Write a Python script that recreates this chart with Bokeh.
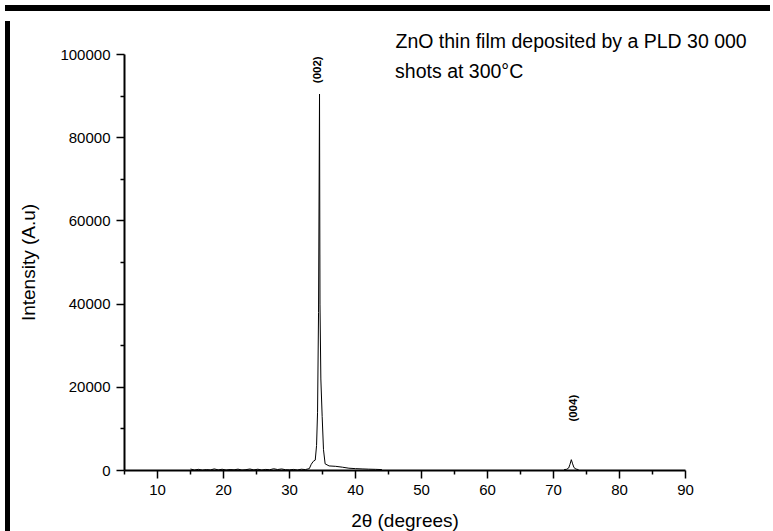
from bokeh.plotting import figure
from bokeh.models import ColumnDataSource, FixedTicker, Label, Title, Div
from bokeh.layouts import column, row
from bokeh.embed import file_html
from bokeh.resources import INLINE

# ---- data ----
two_theta_a = [15.0, 15.6, 16.2, 16.8, 17.4, 18.0, 18.6, 19.2, 19.8, 20.4, 21.0, 21.6,
               22.2, 22.8, 23.4, 24.0, 24.6, 25.2, 25.8, 26.4, 27.0, 27.6, 28.2, 28.8,
               29.4, 30.0, 30.6, 31.2, 31.8, 32.4, 33.0, 33.3, 33.6, 33.9, 34.1, 34.25,
               34.4, 34.55, 34.62, 34.75, 34.95, 35.15, 35.4, 36.0, 37.0, 38.0, 39.0,
               40.0, 41.0, 42.0, 43.0, 44.0]
intensity_a = [350, 120, 280, 90, 220, 130, 380, 150, 300, 110, 240, 160,
               330, 100, 200, 360, 140, 310, 120, 260, 180, 420, 230, 370,
               190, 150, 260, 120, 310, 220, 450, 1500, 2200, 2500, 6000, 14000,
               38000, 90500, 40000, 22000, 13000, 5000, 1600, 1100, 1000, 800, 550,
               450, 380, 320, 280, 220]

two_theta_b = [71.6, 72.0, 72.3, 72.5, 72.7, 72.9, 73.1, 73.4, 73.8]
intensity_b = [200, 300, 600, 1500, 2600, 1600, 700, 350, 200]

x_major = [10, 20, 30, 40, 50, 60, 70, 80, 90]
x_minor = [5, 15, 25, 35, 45, 55, 65, 75, 85]
y_major = [0, 20000, 40000, 60000, 80000, 100000]
y_minor = [10000, 30000, 50000, 70000, 90000]
y_labels = ["0", "20000", "40000", "60000", "80000", "100000"]

peak_names = ["(002)", "(004)"]
peak_x = [34.22, 73.0]
peak_y = [93100, 11750]

title_line1 = "ZnO thin film deposited by a PLD 30 000"
title_line2 = "shots at 300\u00b0C"
title_x = 46.0
title_y2 = 96150

FONT = "Liberation Sans"

fig = figure(width=760, height=517, x_range=(5, 90), y_range=(0, 100000),
             output_backend="svg", toolbar_location=None,
             min_border_left=109, min_border_right=90,
             min_border_top=38, min_border_bottom=62)
fig.outline_line_color = None
fig.xgrid.visible = False
fig.ygrid.visible = False
fig.background_fill_color = "white"
fig.border_fill_color = "white"

src_a = ColumnDataSource(dict(x=two_theta_a, y=intensity_a))
src_b = ColumnDataSource(dict(x=two_theta_b, y=intensity_b))
fig.line("x", "y", source=src_a, line_color="black", line_width=1)
fig.line("x", "y", source=src_b, line_color="black", line_width=1)

for ax in (fig.xaxis[0], fig.yaxis[0]):
    ax.axis_line_width = 2
    ax.axis_line_color = "black"
    ax.major_tick_line_width = 1.5
    ax.minor_tick_line_width = 1.5
    ax.major_tick_line_color = "black"
    ax.minor_tick_line_color = "black"
    ax.major_tick_in = 0
    ax.minor_tick_in = 0
    ax.major_label_text_font = FONT
    ax.major_label_text_font_size = "15px"
    ax.major_label_text_color = "black"
    ax.axis_label_text_font = FONT
    ax.axis_label_text_font_style = "normal"
    ax.axis_label_text_color = "black"
    ax.axis_label_text_font_size = "19px"

fig.xaxis.ticker = FixedTicker(ticks=x_major, minor_ticks=x_minor)
fig.yaxis.ticker = FixedTicker(ticks=y_major, minor_ticks=y_minor)
fig.yaxis.major_label_overrides = {v: s for v, s in zip(y_major, y_labels)}
fig.xaxis.major_tick_out = 8
fig.xaxis.minor_tick_out = 4
fig.yaxis.major_tick_out = 8
fig.yaxis.minor_tick_out = 4
fig.xaxis.major_label_standoff = 6
fig.yaxis.major_label_standoff = 6
fig.xaxis.axis_label = "2\u03b8 (degrees)"
fig.yaxis.axis_label = "Intensity (A.u)"
fig.xaxis.axis_label_standoff = 12
fig.yaxis.axis_label_standoff = 18

fig.add_layout(Title(text=title_line1, align="left", offset=271, standoff=6,
                     text_font=FONT, text_font_size="19.5px", text_font_style="normal",
                     text_color="black"), "above")
fig.add_layout(Label(x=title_x, y=title_y2, text=title_line2, text_font=FONT,
                     text_font_size="19.5px", text_color="black",
                     text_align="left", text_baseline="alphabetic"))

for name, xx, yy in zip(peak_names, peak_x, peak_y):
    fig.add_layout(Label(x=xx, y=yy, text=name, angle=90, angle_units="deg",
                         text_font=FONT, text_font_size="11.5px",
                         text_font_style="bold", text_color="black",
                         text_align="left", text_baseline="middle"))

# black scan edges along the top and the left of the picture
top_edge = Div(text="", width=765, height=6, styles={"background-color": "black"})
left_edge = Div(text="", width=5, height=517, styles={"background-color": "black"})
p = column(top_edge, row(left_edge, fig, spacing=0), spacing=0)

open("out.html", "w").write(file_html(p, INLINE))
